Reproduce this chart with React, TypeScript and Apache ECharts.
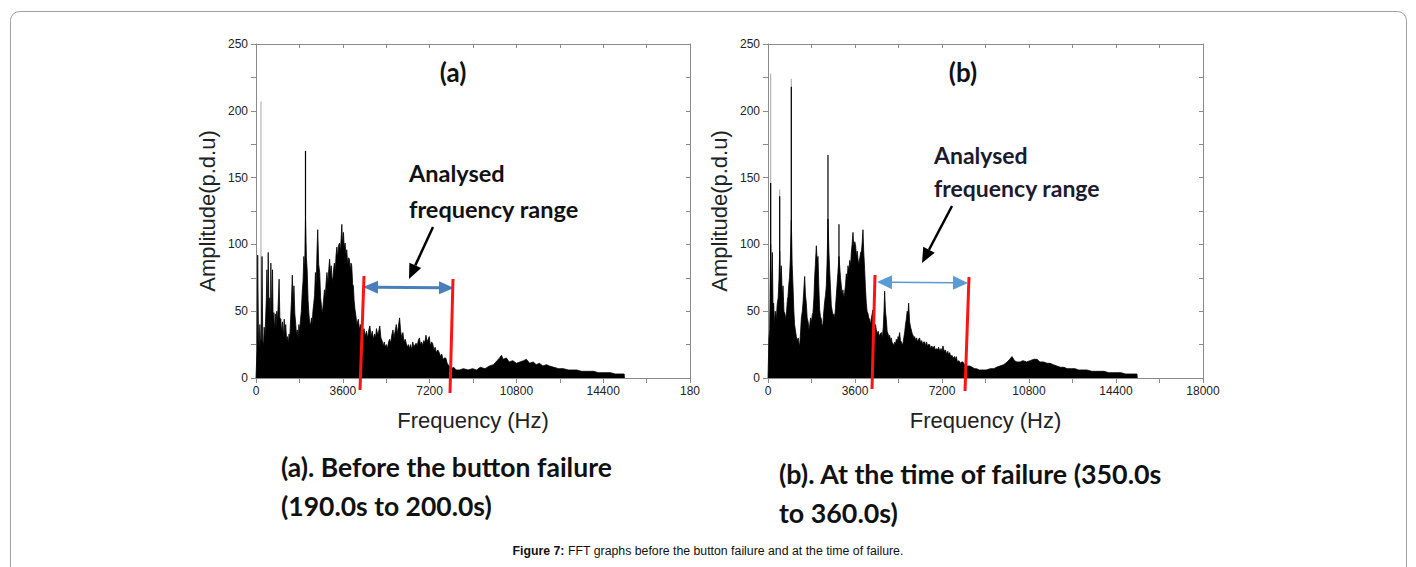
import React, { useEffect, useRef } from "react";
import * as echarts from "echarts";

// ---------- DATA ----------
const xTicks = [0, 3600, 7200, 10800, 14400, 18000];
const yTicks = [0, 50, 100, 150, 200, 250];

// FFT envelope (a) before failure: [frequency Hz, amplitude p.d.u]
const spectrumA: [number, number][] = [
  [0, 0], [40, 20], [70, 92], [100, 35], [130, 22], [160, 40], [190, 25], [220, 30], [250, 91], [280, 28],
  [310, 24], [340, 38], [370, 30], [400, 45], [430, 60], [452, 81], [480, 50], [507, 94], [540, 48], [570, 60],
  [600, 40], [616, 86], [650, 45], [685, 81], [710, 40], [740, 49], [770, 35], [800, 48], [830, 38], [860, 50],
  [890, 42], [920, 55], [958, 74], [990, 45], [1030, 44], [1060, 34], [1100, 42], [1130, 30], [1170, 44], [1200, 33],
  [1232, 40], [1270, 28], [1300, 31], [1340, 26], [1370, 33], [1400, 29], [1437, 45], [1470, 58], [1506, 77], [1540, 55],
  [1574, 69], [1610, 48], [1650, 40], [1680, 32], [1711, 36], [1750, 30], [1780, 40], [1810, 35], [1848, 44], [1880, 50],
  [1920, 65], [1950, 72], [1985, 91], [2020, 80], [2053, 119], [2090, 90], [2122, 81], [2160, 58], [2190, 49], [2225, 42],
  [2259, 39], [2300, 45], [2330, 40], [2360, 50], [2396, 56], [2430, 62], [2464, 79], [2500, 70], [2530, 95], [2560, 111],
  [2600, 85], [2642, 79], [2680, 60], [2710, 55], [2738, 49], [2770, 52], [2806, 59], [2840, 66], [2870, 60], [2910, 72],
  [2943, 79], [2980, 70], [3020, 82], [3053, 89], [3090, 78], [3120, 84], [3149, 76], [3180, 72], [3217, 81], [3250, 86],
  [3290, 80], [3320, 92], [3354, 98], [3390, 90], [3420, 99], [3464, 101], [3500, 95], [3530, 104], [3560, 115], [3590, 100],
  [3628, 109], [3660, 97], [3696, 101], [3730, 92], [3765, 96], [3800, 85], [3840, 90], [3874, 89], [3910, 80], [3940, 86],
  [3970, 84], [4010, 70], [4039, 69], [4070, 58], [4107, 51], [4140, 47], [4180, 40], [4244, 44], [4290, 36], [4330, 40],
  [4381, 39], [4430, 33], [4480, 37], [4530, 31], [4580, 35], [4630, 30], [4680, 36], [4723, 39], [4770, 31], [4820, 35],
  [4870, 29], [4920, 33], [4960, 30], [4997, 37], [5050, 32], [5090, 35], [5134, 39], [5180, 30], [5230, 28], [5270, 24],
  [5320, 27], [5360, 23], [5407, 25], [5450, 22], [5500, 27], [5545, 29], [5590, 26], [5630, 32], [5681, 36], [5720, 30],
  [5770, 35], [5818, 40], [5860, 33], [5900, 38], [5955, 45], [6000, 35], [6050, 30], [6092, 34], [6140, 27], [6190, 29],
  [6229, 26], [6280, 23], [6320, 25], [6366, 22], [6410, 25], [6460, 21], [6500, 27], [6550, 23], [6600, 25], [6640, 26],
  [6690, 24], [6730, 28], [6777, 30], [6820, 25], [6870, 27], [6913, 24], [6960, 28], [7000, 26], [7050, 32], [7100, 27],
  [7140, 29], [7187, 31], [7230, 24], [7280, 27], [7324, 26], [7380, 21], [7430, 23], [7480, 19], [7540, 21], [7598, 19],
  [7650, 16], [7700, 18], [7760, 14], [7820, 15], [7872, 15], [7930, 11], [7970, 10], [8009, 9], [8100, 7], [8200, 8],
  [8300, 6], [8441, 6], [8600, 7], [8800, 6], [8979, 7], [9150, 6], [9300, 8], [9500, 7], [9683, 9], [9850, 10],
  [10000, 13], [10100, 15], [10180, 17], [10250, 14], [10386, 15], [10500, 12], [10650, 13], [10800, 11], [10950, 12], [11100, 13],
  [11214, 14], [11350, 11], [11500, 12], [11620, 10], [11752, 11], [11900, 9], [12050, 10], [12166, 9], [12350, 8], [12550, 7],
  [12750, 7], [12950, 6], [13118, 6], [13300, 6], [13500, 5], [13700, 5], [13820, 5], [14000, 5], [14200, 4], [14400, 4],
  [14524, 4], [14700, 4], [14900, 3], [15100, 3], [15187, 3], [15270, 3], [15280, 0],
];
const greySpikesA: [number, number][] = [[205, 207]];
const blackSpikesA: [number, number][] = [[2053, 170]];

// FFT envelope (b) at failure
const spectrumB: [number, number][] = [
  [0, 0], [40, 30], [69, 36], [110, 100], [140, 60], [179, 94], [210, 50], [234, 56], [270, 40], [300, 50],
  [345, 44], [380, 55], [420, 60], [455, 74], [483, 95], [520, 70], [552, 84], [590, 60], [621, 69], [660, 50],
  [700, 48], [731, 44], [770, 50], [800, 58], [827, 61], [860, 70], [890, 75], [924, 89], [965, 118], [1000, 85],
  [1034, 69], [1070, 50], [1100, 40], [1140, 35], [1172, 31], [1210, 28], [1250, 30], [1280, 26], [1310, 24], [1350, 35],
  [1380, 45], [1420, 50], [1448, 56], [1480, 65], [1517, 76], [1550, 62], [1586, 56], [1620, 45], [1660, 42], [1700, 36],
  [1724, 39], [1760, 45], [1800, 42], [1830, 47], [1862, 49], [1900, 60], [1930, 75], [1960, 85], [2000, 99], [2035, 88],
  [2069, 91], [2100, 70], [2137, 51], [2170, 46], [2210, 44], [2240, 38], [2275, 41], [2310, 50], [2350, 58], [2380, 62],
  [2413, 69], [2450, 90], [2482, 119], [2520, 95], [2551, 81], [2590, 66], [2620, 54], [2660, 50], [2700, 46], [2730, 48],
  [2758, 44], [2790, 52], [2820, 60], [2855, 69], [2890, 78], [2937, 91], [2980, 80], [3000, 75], [3034, 69], [3070, 62],
  [3100, 66], [3130, 60], [3172, 64], [3210, 70], [3240, 78], [3280, 75], [3310, 84], [3350, 80], [3380, 88], [3420, 85],
  [3448, 94], [3480, 100], [3517, 109], [3550, 98], [3590, 102], [3627, 99], [3660, 90], [3690, 95], [3723, 89], [3760, 85],
  [3800, 90], [3834, 94], [3870, 95], [3900, 102], [3930, 111], [3960, 95], [4000, 81], [4030, 68], [4068, 56], [4100, 50],
  [4140, 48], [4170, 45], [4206, 44], [4240, 40], [4280, 45], [4310, 48], [4344, 51], [4380, 42], [4420, 38], [4450, 40],
  [4482, 36], [4520, 33], [4560, 35], [4600, 31], [4640, 33], [4689, 34], [4730, 30], [4770, 38], [4800, 50], [4827, 65],
  [4860, 50], [4896, 44], [4930, 35], [4970, 33], [5000, 30], [5033, 32], [5070, 28], [5100, 30], [5140, 26], [5171, 26],
  [5210, 24], [5250, 27], [5280, 25], [5309, 29], [5350, 27], [5380, 31], [5410, 30], [5447, 34], [5480, 28], [5520, 27],
  [5550, 25], [5585, 26], [5620, 30], [5660, 35], [5690, 40], [5723, 44], [5760, 50], [5790, 48], [5820, 56], [5860, 42],
  [5900, 38], [5930, 36], [5970, 33], [6000, 32], [6030, 30], [6068, 31], [6110, 28], [6150, 30], [6190, 27], [6230, 29],
  [6274, 30], [6320, 26], [6360, 28], [6400, 25], [6440, 27], [6481, 27], [6520, 24], [6560, 27], [6600, 24], [6640, 25],
  [6688, 25], [6730, 22], [6780, 24], [6830, 22], [6880, 24], [6920, 21], [6964, 22], [7010, 21], [7060, 23], [7110, 20],
  [7160, 22], [7200, 20], [7240, 24], [7290, 20], [7340, 21], [7390, 18], [7440, 20], [7480, 17], [7516, 19], [7560, 16],
  [7610, 17], [7660, 15], [7720, 16], [7760, 14], [7791, 16], [7840, 12], [7900, 13], [7960, 11], [8010, 12], [8067, 12],
  [8130, 10], [8200, 9], [8280, 9], [8343, 9], [8450, 8], [8550, 7], [8619, 7], [8750, 6], [8897, 6], [9032, 6],
  [9200, 7], [9350, 7], [9450, 8], [9600, 9], [9750, 10], [9900, 12], [10000, 14], [10097, 16], [10200, 13], [10300, 12],
  [10428, 12], [10550, 13], [10700, 12], [10850, 13], [11000, 14], [11131, 14], [11250, 12], [11400, 12], [11550, 11], [11669, 11],
  [11800, 10], [11950, 9], [12100, 8], [12250, 8], [12373, 7], [12550, 7], [12700, 7], [12850, 6], [13035, 6], [13200, 6],
  [13400, 5], [13550, 5], [13738, 5], [13900, 5], [14100, 4], [14250, 4], [14441, 4], [14600, 4], [14800, 3], [15000, 3],
  [15150, 3], [15269, 3], [15280, 0],
];
const greySpikesB: [number, number][] = [[110, 228], [483, 141], [965, 224]];
const blackSpikesB: [number, number][] = [[110, 146], [483, 136], [965, 218], [2482, 167], [2937, 115]];

const panelTitles = ["(a)", "(b)"];
const rangeLabel = ["Analysed", "frequency range"];
const captionA = ["(a). Before the button failure", "(190.0s to 200.0s)"];
const captionB = ["(b). At the time of failure (350.0s", "to 360.0s)"];
const figureLabel = "Figure 7:";
const figureText = " FFT graphs before the button failure and at the time of failure.";

// ---------- STYLE ----------
const AXIS = "#8a8a8a";
const LABEL = "#222";
const ARIAL = "Liberation Sans, Arial, sans-serif";
const CAL = "Lato, sans-serif";

function makeXAxes(gridIndex: number, clipLast: boolean) {
  const bottom: any = {
    type: "value", gridIndex, min: xTicks[0], max: xTicks[xTicks.length - 1], interval: xTicks[1] - xTicks[0],
    position: "bottom",
    axisLine: { show: true, onZero: false, lineStyle: { color: AXIS, width: 1 } },
    axisTick: { show: true, length: 5, lineStyle: { color: AXIS } },
    minorTick: { show: true, splitNumber: 2, length: 5, lineStyle: { color: AXIS } },
    splitLine: { show: false },
    axisLabel: {
      color: LABEL, fontSize: 12, fontFamily: ARIAL, margin: 7,
      formatter: (v: number) => (clipLast && v === 18000 ? "180" : String(v)),
    },
    name: "Frequency (Hz)", nameLocation: "middle", nameGap: 31,
    nameTextStyle: { fontSize: 22, color: LABEL, fontFamily: ARIAL },
  };
  const top: any = {
    type: "value", gridIndex, min: xTicks[0], max: xTicks[xTicks.length - 1], interval: xTicks[1] - xTicks[0],
    position: "top",
    axisLine: { show: true, onZero: false, lineStyle: { color: AXIS, width: 1 } },
    axisTick: { show: true, inside: true, length: 4, lineStyle: { color: AXIS } },
    minorTick: { show: true, splitNumber: 2, length: 4, lineStyle: { color: AXIS } },
    splitLine: { show: false },
    axisLabel: { show: false },
  };
  return [bottom, top];
}

function makeYAxes(gridIndex: number) {
  const left: any = {
    type: "value", gridIndex, min: yTicks[0], max: yTicks[yTicks.length - 1], interval: yTicks[1] - yTicks[0],
    position: "left",
    axisLine: { show: true, onZero: false, lineStyle: { color: AXIS, width: 1 } },
    axisTick: { show: true, length: 5, lineStyle: { color: AXIS } },
    minorTick: { show: true, splitNumber: 2, length: 5, lineStyle: { color: AXIS } },
    splitLine: { show: false },
    axisLabel: { color: LABEL, fontSize: 12, fontFamily: ARIAL, margin: 8 },
    name: "Amplitude(p.d.u)", nameLocation: "middle", nameGap: 38,
    nameTextStyle: { fontSize: 22, color: LABEL, fontFamily: ARIAL },
  };
  const right: any = {
    type: "value", gridIndex, min: yTicks[0], max: yTicks[yTicks.length - 1], interval: yTicks[1] - yTicks[0],
    position: "right",
    axisLine: { show: true, onZero: false, lineStyle: { color: AXIS, width: 1 } },
    axisTick: { show: true, inside: true, length: 4, lineStyle: { color: AXIS } },
    minorTick: { show: true, splitNumber: 2, length: 4, lineStyle: { color: AXIS } },
    splitLine: { show: false },
    axisLabel: { show: false },
  };
  return [left, right];
}

function spikeSeries(data: [number, number][], xi: number, yi: number, color: string, z: number) {
  return {
    type: "custom", xAxisIndex: xi, yAxisIndex: yi, z, silent: true,
    data,
    renderItem: (_p: any, api: any) => {
      const p0 = api.coord([api.value(0), 0]);
      const p1 = api.coord([api.value(0), api.value(1)]);
      return {
        type: "line",
        shape: { x1: p0[0], y1: p0[1], x2: p1[0], y2: p1[1] },
        style: { stroke: color, lineWidth: 1.2 },
      };
    },
  };
}

function areaSeries(data: [number, number][], xi: number, yi: number) {
  return {
    type: "line", xAxisIndex: xi, yAxisIndex: yi, z: 3, silent: true,
    data, showSymbol: false, symbol: "none",
    lineStyle: { color: "#000", width: 0.8 },
    areaStyle: { color: "#000", opacity: 1 },
  };
}

// ---------- annotation helpers ----------
function head(tip: number[], from: number[], len: number, hw: number) {
  const dx = tip[0] - from[0], dy = tip[1] - from[1];
  const d = Math.hypot(dx, dy);
  const ux = dx / d, uy = dy / d;
  const bx = tip[0] - ux * len, by = tip[1] - uy * len;
  return { base: [bx, by], pts: [tip, [bx - uy * hw, by + ux * hw], [bx + uy * hw, by - ux * hw]] };
}

function singleArrow(tail: number[], tip: number[], color: string, w: number, len: number, hw: number) {
  const h = head(tip, tail, len, hw);
  return [
    { type: "line", shape: { x1: tail[0], y1: tail[1], x2: h.base[0], y2: h.base[1] }, style: { stroke: color, lineWidth: w }, z: 20 },
    { type: "polygon", shape: { points: h.pts }, style: { fill: color }, z: 20 },
  ];
}

function doubleArrow(a: number[], b: number[], color: string, w: number, len: number, hw: number) {
  const h1 = head(a, b, len, hw);
  const h2 = head(b, a, len, hw);
  return [
    { type: "line", shape: { x1: h1.base[0], y1: h1.base[1], x2: h2.base[0], y2: h2.base[1] }, style: { stroke: color, lineWidth: w }, z: 20 },
    { type: "polygon", shape: { points: h1.pts }, style: { fill: color }, z: 20 },
    { type: "polygon", shape: { points: h2.pts }, style: { fill: color }, z: 20 },
  ];
}

function redLine(top: number[], bottom: number[]) {
  return { type: "line", shape: { x1: top[0], y1: top[1], x2: bottom[0], y2: bottom[1] }, style: { stroke: "#ff1414", lineWidth: 3 }, z: 21 };
}

function txt(x: number, y: number, text: string, size: number, color = "#111", family = CAL, weight = "bold", align = "left") {
  return {
    type: "text", x, y, z: 30,
    style: { text, fill: color, font: `${weight} ${size}px ${family}`, textAlign: align, textVerticalAlign: "middle" },
  };
}

export default function App() {
  const ref = useRef<HTMLDivElement>(null);
  useEffect(() => {
    if (!ref.current) return;
    const chart = echarts.init(ref.current, undefined, { renderer: "svg" });
    const [xa0, xa1] = makeXAxes(0, true);
    const [xb0, xb1] = makeXAxes(1, false);
    const [ya0, ya1] = makeYAxes(0);
    const [yb0, yb1] = makeYAxes(1);

    const graphics: any[] = [
      { type: "rect", shape: { x: 10.5, y: 11.5, width: 1396, height: 700, r: 9 }, style: { fill: "none", stroke: "#a0a0a0", lineWidth: 1 }, z: 0 },
      txt(453, 72, panelTitles[0], 26, "#111", CAL, "bold", "center"),
      txt(963, 72, panelTitles[1], 26, "#111", CAL, "bold", "center"),
      txt(409, 173, rangeLabel[0], 23.5),
      txt(409, 209, rangeLabel[1], 23.5),
      txt(934, 155, rangeLabel[0], 23, "#1c1a2e"),
      txt(934, 188, rangeLabel[1], 23, "#1c1a2e"),
      ...singleArrow([433, 227], [409, 279], "#000", 2.5, 15, 6.5),
      ...singleArrow([952, 206], [922, 263], "#000", 2.5, 15, 6.5),
      ...doubleArrow([363, 287], [454, 288], "#4a7ebb", 3, 15, 6.5),
      ...doubleArrow([877, 282], [968, 283], "#5b9bd5", 1.5, 15, 7),
      redLine([364, 276], [360, 390]),
      redLine([453, 279], [450, 393]),
      redLine([875, 275], [872, 389]),
      redLine([969, 277], [965, 391]),
      txt(281, 467, captionA[0], 26.5),
      txt(281, 506, captionA[1], 26.5),
      txt(779, 474, captionB[0], 26.8),
      txt(779, 513, captionB[1], 26.8),
      {
        type: "text", x: 708, y: 551, z: 30,
        style: {
          text: `{b|${figureLabel}}{r|${figureText}}`,
          textAlign: "center", textVerticalAlign: "middle",
          rich: {
            b: { fontFamily: ARIAL, fontSize: 12.3, fontWeight: "bold", fill: "#111", color: "#111" },
            r: { fontFamily: ARIAL, fontSize: 12.3, fill: "#111", color: "#111" },
          },
        },
      },
    ];

    chart.setOption({
      animation: false,
      backgroundColor: "#fff",
      grid: [
        { left: 256, top: 44, width: 434, height: 334 },
        { left: 768, top: 44, width: 435, height: 334 },
      ],
      xAxis: [xa0, xa1, xb0, xb1],
      yAxis: [ya0, ya1, yb0, yb1],
      series: [
        spikeSeries(greySpikesA, 0, 0, "#b4b4b4", 2),
        areaSeries(spectrumA, 0, 0),
        spikeSeries(blackSpikesA, 0, 0, "#000", 4),
        spikeSeries(greySpikesB, 2, 2, "#b4b4b4", 2),
        areaSeries(spectrumB, 2, 2),
        spikeSeries(blackSpikesB, 2, 2, "#000", 4),
      ],
      graphic: graphics,
    });
    return () => chart.dispose();
  }, []);
  return <div ref={ref} style={{ position: "absolute", left: 0, top: 0, width: 1416, height: 567 }} />;
}
